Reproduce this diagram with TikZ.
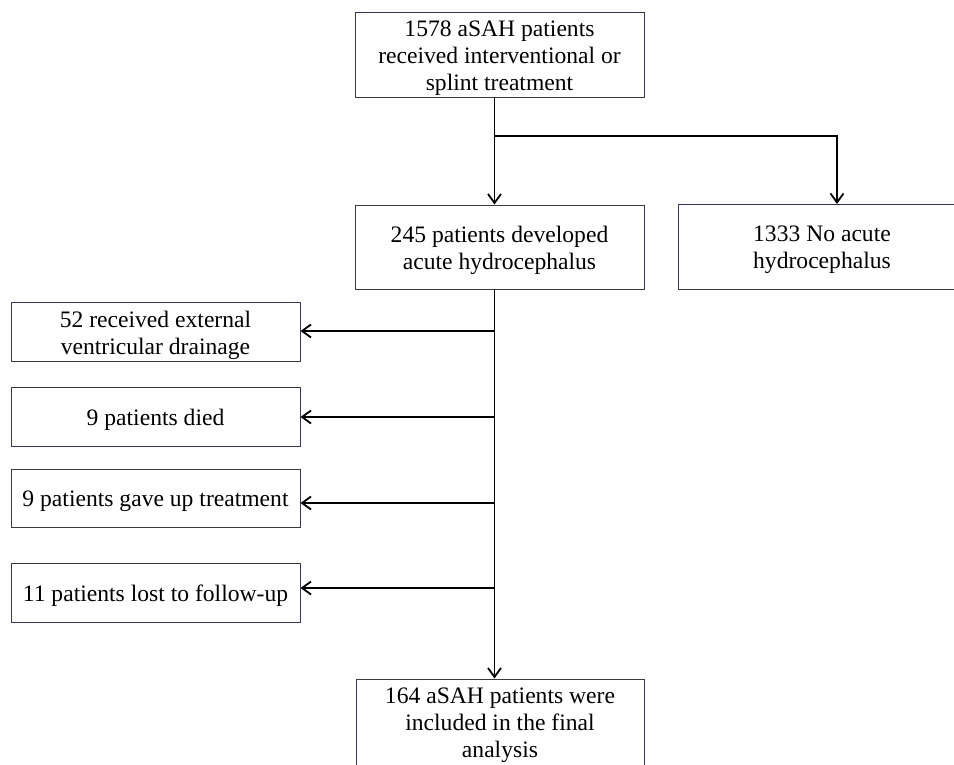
\documentclass[tikz,border=0pt]{standalone}
\usepackage{fontspec}
\setmainfont{Liberation Serif}
\usetikzlibrary{arrows.meta}
\definecolor{boxline}{RGB}{55,55,90}
\begin{document}
\begin{tikzpicture}[x=1pt,y=-1pt,
  box/.style={draw=boxline, line width=1pt, inner sep=0pt, fill=white},
  txt/.style={inner sep=0pt, align=center, font=\fontsize{23.6}{27}\selectfont},
  arr/.style={draw=black, line width=1.8pt, -{Straight Barb[length=9pt,width=13pt]}}]
\clip (0,0) rectangle (954,764);
\fill[white] (0,0) rectangle (954,764);
% boxes
\node[box, minimum width=289pt, minimum height=85pt] (top) at (499.5,54.5) {};
\node[box, minimum width=289pt, minimum height=84pt] (hyd) at (499.5,247) {};
\node[box, minimum width=288pt, minimum height=85pt] (noh) at (822,246.5) {};
\node[box, minimum width=289pt, minimum height=59pt] (evd) at (155.5,331.5) {};
\node[box, minimum width=289pt, minimum height=59pt] (died) at (155.5,416.5) {};
\node[box, minimum width=289pt, minimum height=58pt] (gave) at (155.5,498) {};
\node[box, minimum width=289pt, minimum height=59pt] (lost) at (155.5,592.5) {};
\node[box, minimum width=288pt, minimum height=88pt] (fin) at (500,723) {};
% texts
\node[txt] (ttop) at ([yshift=-4pt]top.center)
  {1578 aSAH patients\\received interventional or\\splint treatment};
\node[txt] (thyd) at ([yshift=-3pt]hyd.center)
  {245 patients developed\\acute hydrocephalus};
\node[txt] (tnoh) at ([yshift=-3pt]noh.center)
  {1333 No acute\\hydrocephalus};
\node[txt] (tevd) at ([yshift=-3.5pt]evd.center)
  {52 received external\\ventricular drainage};
\node[txt] (tdied) at ([yshift=-3.5pt]died.center) {9 patients died};
\node[txt] (tgave) at ([yshift=-3.5pt]gave.center) {9 patients gave up treatment};
\node[txt] (tlost) at ([yshift=-3.5pt]lost.center) {11 patients lost to follow-up};
\node[txt] (tfin) at ([yshift=-2pt]fin.center)
  {164 aSAH patients were\\included in the final\\analysis};
% connectors
\coordinate (t0) at (494.5,97);
\coordinate (br) at (494.5,136);
\coordinate (h0) at (494.5,289);
\coordinate (nin) at (837,204);
\draw[arr] (t0) -- (t0 |- hyd.north);
\draw[arr] (br) -| (nin);
\draw[arr] (h0) -- (h0 |- fin.north);
\coordinate (j1) at (494.5,331);
\coordinate (j2) at (494.5,417);
\coordinate (j3) at (494.5,503);
\coordinate (j4) at (494.5,588);
\draw[arr] (j1) -- (j1 -| evd.east);
\draw[arr] (j2) -- (j2 -| died.east);
\draw[arr] (j3) -- (j3 -| gave.east);
\draw[arr] (j4) -- (j4 -| lost.east);
\end{tikzpicture}
\end{document}
